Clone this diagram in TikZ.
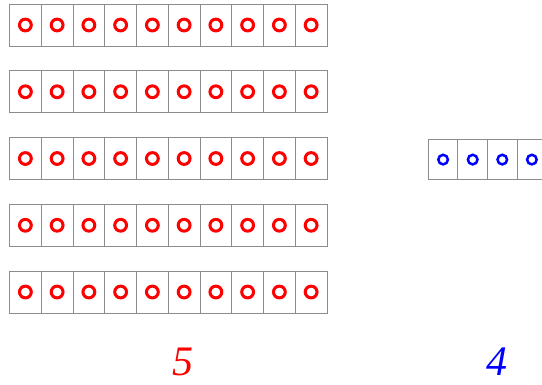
\documentclass[tikz,border=0pt]{standalone}
\usepackage{fontspec}
\newfontfamily\numfont{Liberation Serif}
\definecolor{cellgray}{RGB}{140,140,140}
\begin{document}
\begin{tikzpicture}[x=1pt,y=-1pt,
  redcell/.style={draw=cellgray, line width=0.9pt, minimum width=31.75pt, minimum height=42pt, inner sep=0pt, outer sep=0pt},
  bluecell/.style={draw=cellgray, line width=0.9pt, minimum width=29.6pt, minimum height=39.5pt, inner sep=0pt, outer sep=0pt},
  redring/.style={draw=red, circle, line width=3pt, minimum size=11.8pt, inner sep=0pt},
  bluering/.style={draw=blue, circle, line width=2.5pt, minimum size=9.6pt, inner sep=0pt},
  numlabel/.style={font=\numfont\fontsize{42}{42}\selectfont\itshape, inner sep=0pt}]
\useasboundingbox (0,0) rectangle (542,384);
\clip (0,0) rectangle (542,384);
\foreach \r/\yc in {1/25,2/91.75,3/158.5,4/225.25,5/292}{
  \foreach \c in {1,...,10}{
    \node[redcell] (r\r c\c) at ({9.5+31.75*(\c-0.5)},\yc) {};
    \node[redring] (rr\r c\c) at (r\r c\c.center) {};
  }
}
\foreach \c in {1,...,4}{
  \node[bluecell] (b\c) at ({428.3+29.6*(\c-0.5)},159.6) {};
  \node[bluering] (br\c) at (b\c.center) {};
}
\node[numlabel, text=red] (five) at (183,362) {5};
\node[numlabel, text=blue] (four) at (497,362) {4};
\end{tikzpicture}
\end{document}
